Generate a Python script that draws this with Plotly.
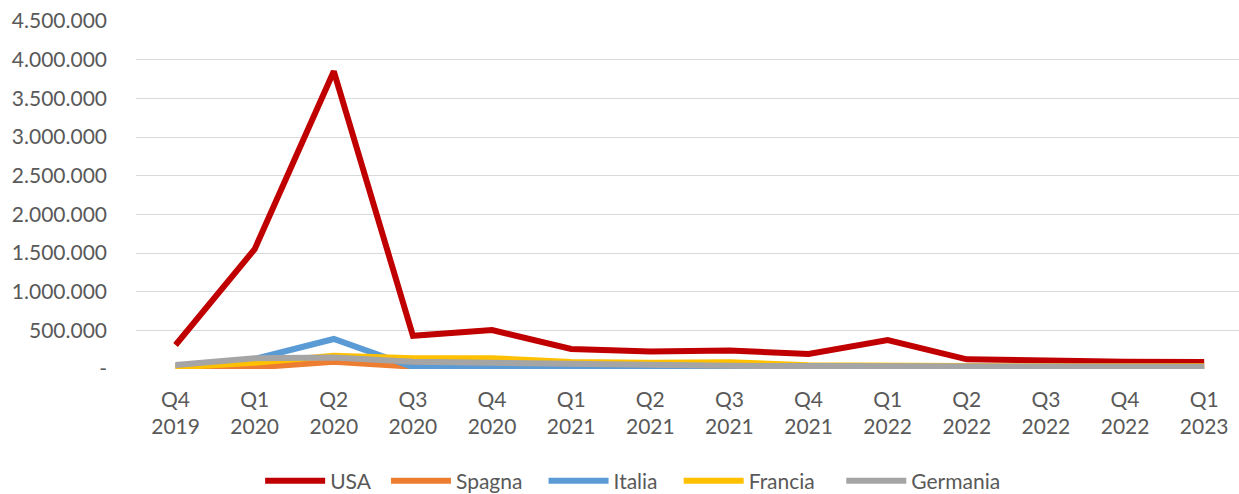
import plotly.graph_objects as go

quarters = ["Q4<br>2019", "Q1<br>2020", "Q2<br>2020", "Q3<br>2020", "Q4<br>2020",
            "Q1<br>2021", "Q2<br>2021", "Q3<br>2021", "Q4<br>2021",
            "Q1<br>2022", "Q2<br>2022", "Q3<br>2022", "Q4<br>2022", "Q1<br>2023"]

usa = [310000, 1550000, 3850000, 430000, 504000, 259000, 225000, 240000, 194000, 375000, 125000, 103000, 95000, 90000]
spagna = [15000, 20000, 95000, 30000, 10000, 5000, 5000, 5000, 5000, 3000, 3000, 3000, 3000, 3000]
italia = [40000, 130000, 388000, 25000, 15000, 12000, 10000, 10000, 10000, 8000, 8000, 8000, 8000, 8000]
francia = [20000, 82000, 172000, 140000, 140000, 92000, 80000, 86000, 50000, 40000, 35000, 35000, 35000, 35000]
germania = [52000, 138000, 150000, 95000, 80000, 66000, 45000, 42000, 38000, 35000, 30000, 30000, 30000, 30000]

y_ticks = [0, 500000, 1000000, 1500000, 2000000, 2500000, 3000000, 3500000, 4000000, 4500000]
y_ticktext = ["-", "500.000", "1.000.000", "1.500.000", "2.000.000", "2.500.000",
              "3.000.000", "3.500.000", "4.000.000", "4.500.000"]

series = [
    ("USA", usa, "#C00000", "USA  "),
    ("Spagna", spagna, "#ED7D31", "Spagna   "),
    ("Italia", italia, "#5B9BD5", "Italia   "),
    ("Francia", francia, "#FFC000", "Francia    "),
    ("Germania", germania, "#A5A5A5", "Germania"),
]

fig = go.Figure()
for name, vals, color, label in series:
    fig.add_trace(go.Scatter(x=quarters, y=vals, name=label, mode="lines",
                             line=dict(color=color, width=6)))

font_family = "Lato, Calibri, sans-serif"
fig.update_layout(
    width=1239, height=494,
    margin=dict(l=136, r=0, t=21, b=125, autoexpand=False),
    paper_bgcolor="white", plot_bgcolor="white",
    font=dict(family=font_family, size=21, color="#595959"),
    showlegend=True,
    legend=dict(orientation="h", xref="container", x=0.511, xanchor="center",
                yref="container", y=0.026, yanchor="middle",
                font=dict(family=font_family, size=21, color="#595959"),
                itemwidth=60, tracegroupgap=0),
    xaxis=dict(type="category", range=[-0.5, 13.44], showgrid=False, showline=False,
               zeroline=False, ticks="", automargin=False, ticklabelstandoff=16,
               tickfont=dict(size=21, color="#595959")),
    yaxis=dict(range=[0, 4500000], tickvals=y_ticks, ticktext=y_ticktext,
               showgrid=True, gridcolor="#D9D9D9", gridwidth=1.3, zeroline=False,
               showline=False, ticks="", ticklabelstandoff=28, automargin=False,
               tickfont=dict(size=21, color="#595959")),
)

fig.write_html("out.html", config={"displayModeBar": False},
               post_script="document.body.style.margin='0';")
